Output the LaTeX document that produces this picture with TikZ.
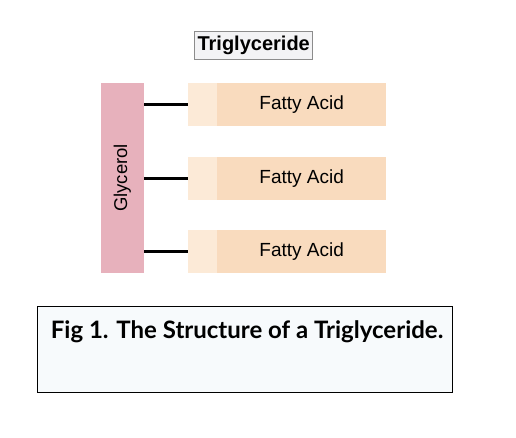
\documentclass[tikz,border=0pt]{standalone}
\usepackage{fontspec}
\setmainfont{Liberation Sans}
\newfontfamily\captionfont{Lato}
\definecolor{glycerolpink}{HTML}{E7B1BC}
\definecolor{headpeach}{HTML}{FCEAD7}
\definecolor{tailpeach}{HTML}{F9DBBE}
\definecolor{titlegray}{HTML}{F3F3F5}
\definecolor{captionblue}{HTML}{F7FAFC}
\tikzset{
  acidhead/.style={fill=headpeach, inner sep=0pt, minimum width=29.6pt, minimum height=42.4pt},
  acidtail/.style={fill=tailpeach, inner sep=0pt, minimum width=168.7pt, minimum height=42.4pt, font=\fontsize{19}{19}\selectfont},
  bond/.style={line width=2.8pt, color=black}
}

\begin{document}
\begin{tikzpicture}[x=1pt, y=-1pt]
			%%%%% FRAME %%%%%
			\useasboundingbox[fill=white] (0, 0) rectangle (516, 438);
			
			\node[draw=black!45, fill=titlegray, line width=1pt, inner sep=0pt, minimum width=118pt, minimum height=28pt, font=\bfseries\fontsize{20}{20}\selectfont] (title) at (253.7, 45.3) {Triglyceride};
			
			%%%%% GLYCEROL %%%%%
			\node[fill=glycerolpink, inner sep=0pt, minimum width=43.3pt, minimum height=189.4pt] (glycerol) at (122.35, 178) {};
			\node[rotate=90, font=\fontsize{18.5}{18.5}\selectfont] (glycerollabel) at (glycerol.center) {Glycerol};
			
			%%%%% FATTY ACIDS %%%%%
			\foreach \i/\y in {1/104.5, 2/178.5, 3/251.5}{
				\node[acidhead] (head\i) at (202.5, \y) {};
				\node[acidtail] (acid\i) at (301.65, \y) {Fatty Acid};
				\draw[bond] (glycerol.east |- head\i.west) -- (head\i.west);
			}
			
			%%%%% CAPTION %%%%%
			\node[draw=black, fill=captionblue, line width=0.8pt, inner sep=0pt, minimum width=415.4pt, minimum height=86pt] (captionbox) at (245, 349.7) {};
			\node[anchor=west, inner sep=0pt, font=\captionfont\bfseries\fontsize{24}{24}\selectfont] (captiontext) at (50.7, 331.7) {Fig 1. The Structure of a Triglyceride.};
			
			%%%%% END %%%%%
		\end{tikzpicture}
\end{document}
